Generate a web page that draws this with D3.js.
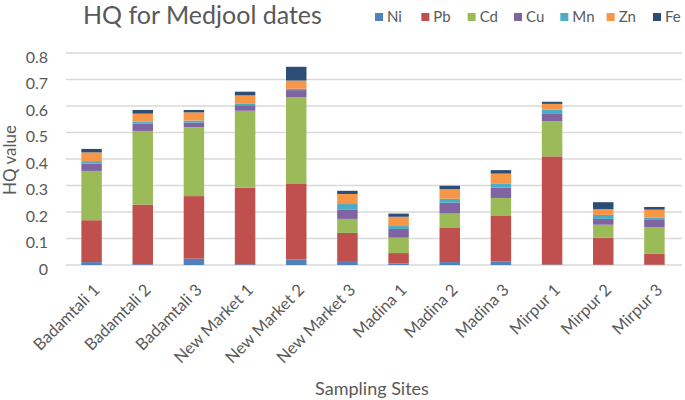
<!DOCTYPE html>
<html>
<head>
<meta charset="UTF-8">
<title>HQ for Medjool dates</title>
<script src="https://d3js.org/d3.v7.min.js"></script>
<style>
  body {margin: 0; background: #fff;}
  text {font-family: Lato, "Open Sans", sans-serif; fill: #595959;}
  .grid line {stroke: #d9d9d9; stroke-width: 1.3;}
</style>
</head>
<body>
<div id="chart"></div>
<script>
// sampling sites
var sites = ["Badamtali 1", "Badamtali 2", "Badamtali 3", "New Market 1", "New Market 2", "New Market 3",
             "Madina 1", "Madina 2", "Madina 3", "Mirpur 1", "Mirpur 2", "Mirpur 3"];
var metals = ["Ni", "Pb", "Cd", "Cu", "Mn", "Zn", "Fe"];
var colors = ["#4f81bd", "#c0504d", "#9bbb59", "#8064a2", "#4bacc6", "#f79646", "#2c4d75"];

// HQ values per metal
var ni = [0.011, 0.003, 0.024, 0.003, 0.021, 0.015, 0.006, 0.011, 0.014, 0.002, 0.001, 0.001];
var pb = [0.158, 0.225, 0.236, 0.289, 0.287, 0.106, 0.039, 0.131, 0.171, 0.408, 0.102, 0.041];
var cd = [0.186, 0.278, 0.260, 0.290, 0.325, 0.053, 0.058, 0.052, 0.068, 0.132, 0.049, 0.101];
var cu = [0.027, 0.027, 0.017, 0.021, 0.027, 0.036, 0.033, 0.041, 0.039, 0.028, 0.022, 0.027];
var mn = [0.010, 0.008, 0.008, 0.005, 0.005, 0.020, 0.011, 0.015, 0.016, 0.016, 0.015, 0.008];
var zn = [0.033, 0.030, 0.031, 0.032, 0.031, 0.038, 0.035, 0.036, 0.037, 0.022, 0.022, 0.031];
var fe = [0.013, 0.014, 0.009, 0.014, 0.052, 0.012, 0.012, 0.013, 0.013, 0.008, 0.026, 0.010];

var yTicks = [0, 0.1, 0.2, 0.3, 0.4, 0.5, 0.6, 0.7, 0.8];

var series = [ni, pb, cd, cu, mn, zn, fe];
var rows = sites.map(function(s, i) {
  var r = {site: s};
  metals.forEach(function(m, k) { r[m] = series[k][i]; });
  return r;
});

var width = 685, height = 400;
var svg = d3.select("#chart").append("svg")
    .attr("width", width)
    .attr("height", height);

var x = d3.scaleBand()
    .domain(sites)
    .range([66, 680])
    .paddingInner(0.6)
    .paddingOuter(0.3);

var y = d3.scaleLinear()
    .domain([0, 0.8])
    .range([265, 53]);

// gridlines
svg.append("g").attr("class", "grid")
  .selectAll("line")
  .data(yTicks)
  .enter().append("line")
    .attr("x1", 66).attr("x2", 682)
    .attr("y1", function(d) { return y(d); })
    .attr("y2", function(d) { return y(d); });

// y tick labels
var yAxis = d3.axisLeft(y).tickValues(yTicks).tickSize(0).tickPadding(0)
    .tickFormat(function(d) { return d === 0 ? "0" : d3.format(".1f")(d); });
var yg = svg.append("g").attr("transform", "translate(48,4)").call(yAxis);
yg.select(".domain").remove();
yg.selectAll("text").style("font-size", "16px").style("font-family", "Lato, sans-serif").attr("fill", "#595959");

// stacked bars
var stacked = d3.stack().keys(metals)(rows);
svg.append("g").selectAll("g")
  .data(stacked)
  .enter().append("g")
    .attr("fill", function(d, i) { return colors[i]; })
  .selectAll("rect")
  .data(function(d) { return d; })
  .enter().append("rect")
    .attr("x", function(d) { return x(d.data.site); })
    .attr("width", x.bandwidth())
    .attr("y", function(d) { return y(d[1]); })
    .attr("height", function(d) { return y(d[0]) - y(d[1]); });

// x labels, rotated
svg.append("g").selectAll("text")
  .data(sites)
  .enter().append("text")
    .attr("transform", function(d) {
      return "translate(" + (x(d) + x.bandwidth() / 2 + 5) + ",287) rotate(-45)";
    })
    .attr("text-anchor", "end")
    .attr("dy", "0.35em")
    .style("font-size", "16.5px")
    .text(function(d) { return d; });

// title
svg.append("text")
    .attr("x", 83).attr("y", 24)
    .style("font-size", "25px")
    .text("HQ for Medjool dates");

// axis titles
svg.append("text")
    .attr("transform", "translate(16,160) rotate(-90)")
    .attr("text-anchor", "middle")
    .style("font-size", "17px")
    .text("HQ value");

svg.append("text")
    .attr("x", 372).attr("y", 395)
    .attr("text-anchor", "middle")
    .style("font-size", "18px")
    .text("Sampling Sites");

// legend
var lg = d3.scalePoint().domain(metals).range([375, 653]);
var legend = svg.append("g").selectAll("g")
  .data(metals)
  .enter().append("g")
    .attr("transform", function(d) { return "translate(" + lg(d) + ",0)"; });
legend.append("rect")
    .attr("y", 13)
    .attr("width", 8).attr("height", 8)
    .attr("fill", function(d, i) { return colors[i]; });
legend.append("text")
    .attr("x", 12).attr("y", 22)
    .style("font-size", "15px")
    .text(function(d) { return d; });
</script>
</body>
</html>
